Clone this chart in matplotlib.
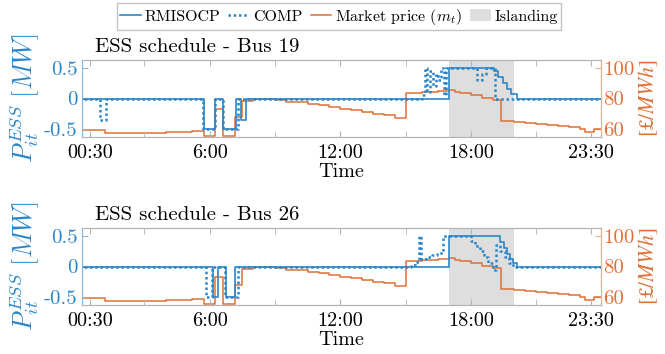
import numpy as np
import matplotlib.pyplot as plt
from matplotlib.patches import Patch
from matplotlib.lines import Line2D

plt.rcParams['font.family'] = 'serif'
plt.rcParams['font.serif'] = ['cmr10']
plt.rcParams['mathtext.fontset'] = 'cm'
plt.rcParams['axes.formatter.use_mathtext'] = True

# step series: hour of the day where a value starts, value held until next entry
price_t = [0, 1.2, 2.5, 4.0, 5.2, 5.75, 6.25, 6.6, 7.15, 7.5, 8.0, 9.0, 9.5, 10.0,
           10.5, 11.0, 11.5, 12.0, 12.5, 13.0, 13.5, 14.0, 14.5, 15.0, 15.75, 16.5,
           17.0, 17.25, 17.5, 18.0, 18.5, 19.0, 19.4, 20.0, 20.5, 21.0, 21.5, 22.0,
           22.5, 23.0, 23.25, 23.65, 24]
price_v = [59.5, 57.5, 57.8, 58.0, 58.8, 55.5, 73.0, 55.5, 68.0, 78.5, 79.5, 79.0, 78.0, 77.5,
           76.5, 75.5, 74.5, 73.5, 72.5, 71.0, 70.0, 69.0, 67.5, 83.5, 84.5, 85.0,
           85.5, 84.5, 83.5, 82.0, 80.5, 79.0, 65.5, 65.0, 64.0, 63.5, 63.0, 62.0,
           61.5, 60.5, 58.0, 60.5, 60.5]

rmi19_t = [0, 5.75, 6.25, 6.6, 7.2, 7.45, 7.65, 17.0, 19.05, 19.25, 19.45, 19.65, 19.85, 20.1, 24]
rmi19_v = [0, -0.5, 0, -0.5, 0, -0.35, 0, 0.5, 0.45, 0.35, 0.25, 0.15, 0.08, 0, 0]
comp19_t = [0, 0.95, 1.25, 5.7, 6.25, 6.6, 7.3, 15.75, 15.875, 16.0, 16.125, 16.25, 16.375,
            16.5, 16.625, 16.75, 16.875, 18.3, 18.5, 18.7, 19.1, 24]
comp19_v = [0, -0.35, 0, -0.5, 0, -0.5, 0, 0.05, 0.5, 0.1, 0.45, 0.2, 0.4,
            0.3, 0.5, 0.05, 0.5, 0.3, 0.4, 0.5, 0, 0]

rmi26_t = [0, 6.15, 6.4, 6.75, 7.15, 17.0, 19.35, 19.5, 19.65, 19.8, 19.95, 20.1, 24]
rmi26_v = [0, -0.5, 0, -0.5, 0, 0.5, 0.4, 0.3, 0.2, 0.12, 0.05, 0, 0]
comp26_t = [0, 5.85, 6.1, 6.7, 7.3, 15.25, 15.45, 15.6, 15.72, 15.95, 16.2, 16.45, 16.7,
            18.0, 18.2, 18.4, 18.6, 18.8, 19.0, 19.15, 19.35, 19.55, 19.75, 19.95, 24]
comp26_v = [0, -0.5, 0, -0.5, 0, 0.03, 0.08, 0.5, 0.12, 0.15, 0.18, 0.22, 0.5,
            0.42, 0.33, 0.25, 0.15, 0.05, -0.05, 0.35, 0.25, 0.15, 0.05, 0.0, 0]

island = (17.0, 20.0)
xticks = [0.5, 6, 12, 18, 23.5]
xlabels = ['00:30', '6:00', '12:00', '18:00', '23:30']

blue = '#2a86c8'
orange = '#df7036'
grey = '#b4b4b4'


def panel(ax, rmi_t, rmi_v, comp_t, comp_v, title):
    ax2 = ax.twinx()
    ax.set_zorder(ax2.get_zorder() + 1)
    ax.patch.set_visible(False)

    ax2.axvspan(*island, color='#dedede', lw=0, zorder=0)
    ax2.plot(price_t, price_v, drawstyle='steps-post', color=orange, lw=1.1, zorder=2)
    ax.plot(rmi_t, rmi_v, drawstyle='steps-post', color=blue, lw=1.2)
    ax.plot(comp_t, comp_v, drawstyle='steps-post', color=blue, lw=1.8,
            ls=(0, (1, 1.1)))

    ax.set_xlim(0.13, 23.96)
    ax.set_ylim(-0.625, 0.625)
    ax2.set_ylim(55, 105)

    ax.set_xticks(xticks)
    ax.set_xticklabels(xlabels)
    ax.set_xticks([3, 9, 15, 21], minor=True)
    ax.set_yticks([-0.5, 0, 0.5])
    ax.set_yticklabels(['-0.5', '0', '0.5'])
    ax2.set_yticks([60, 80, 100])
    ax2.set_yticklabels(['60', '80', '100'])

    ax.tick_params(axis='x', which='both', direction='in', top=True, length=4,
                   color=grey, labelsize=14.5, pad=5)
    ax.tick_params(axis='y', direction='in', length=4, color='#8db7d9',
                   labelcolor=blue, labelsize=15, pad=3)
    ax2.tick_params(axis='y', direction='in', length=4, color='#e8b08f',
                    labelcolor=orange, labelsize=15, pad=2)
    for a in (ax, ax2):
        for s in ('top', 'bottom'):
            a.spines[s].set_color(grey)
        a.spines['left'].set_color('#8db7d9')
        a.spines['right'].set_color('#e8b08f')

    ax.set_ylabel(r'$P_{it}^{ESS}\ [MW]$', color=blue, fontsize=19, labelpad=2)
    ax2.set_ylabel(r'$[£/MWh]$', color=orange, fontsize=15.5, labelpad=1,
                   math_fontfamily='stix')
    ax.set_xlabel('Time', fontsize=14.5, labelpad=1)
    ax.text(0.025, 1.05, title, transform=ax.transAxes, fontsize=15, va='bottom')


fig = plt.figure(figsize=(6.65, 3.54), dpi=100)
ax_top = fig.add_axes([0.1233, 0.613, 0.78, 0.2175])
ax_bot = fig.add_axes([0.1233, 0.1384, 0.78, 0.2175])

panel(ax_top, rmi19_t, rmi19_v, comp19_t, comp19_v, 'ESS schedule - Bus 19')
panel(ax_bot, rmi26_t, rmi26_v, comp26_t, comp26_v, 'ESS schedule - Bus 26')

handles = [Line2D([], [], color=blue, lw=1.2),
           Line2D([], [], color=blue, lw=1.8, ls=(0, (1, 1.1))),
           Line2D([], [], color=orange, lw=1.1),
           Patch(facecolor='#dedede', edgecolor='none')]
labels = ['RMISOCP', 'COMP', r'Market price $(m_t)$', 'Islanding']
fig.legend(handles, labels, loc='upper center', bbox_to_anchor=(0.51, 0.995), ncol=4,
           fontsize=11.5, frameon=True, fancybox=False, edgecolor='#b4b4b4',
           handlelength=1.3, handletextpad=0.25, columnspacing=0.5, borderpad=0.2,
           borderaxespad=0.1)

fig.savefig('out.png', dpi=100)
